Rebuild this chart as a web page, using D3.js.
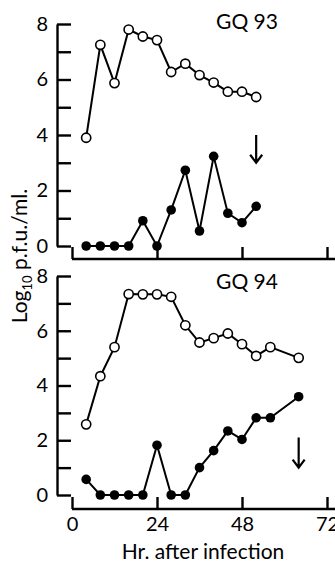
<!DOCTYPE html>
<html>
<head>
<meta charset="utf-8">
<script src="https://cdn.jsdelivr.net/npm/d3@7/dist/d3.min.js"></script>
<style>
  body { margin: 0; background: #fff; }
  svg text { font-family: Lato, "Open Sans", sans-serif; fill: #000; }
</style>
</head>
<body>
<div id="chart"></div>
<script>
// values (log10 p.f.u./ml.)
const hoursGQ93 = [4, 8, 12, 16, 20, 24, 28, 32, 36, 40, 44, 48, 52];
const openGQ93 = [3.9, 7.25, 5.87, 7.8, 7.55, 7.42, 6.27, 6.57, 6.16, 5.89, 5.56, 5.56, 5.37];
const closedGQ93 = [0, 0, 0, 0, 0.91, 0, 1.3, 2.73, 0.54, 3.23, 1.18, 0.84, 1.43];

const hoursGQ94 = [4, 8, 12, 16, 20, 24, 28, 32, 36, 40, 44, 48, 52, 56, 64];
const openGQ94 = [2.58, 4.34, 5.4, 7.34, 7.33, 7.33, 7.24, 6.2, 5.57, 5.73, 5.9, 5.51, 5.08, 5.4, 5.01];
const closedGQ94 = [0.57, 0, 0, 0, 0, 1.82, 0, 0, 1.0, 1.62, 2.34, 2.03, 2.82, 2.82, 3.59];

// arrows: hour, start value, end value
const arrowGQ93 = [52, 4.0, 3.0];
const arrowGQ94 = [64, 2.1, 1.0];

const xTicks = [0, 24, 48, 72];
const yTicks = [0, 1, 2, 3, 4, 5, 6, 7, 8];

const width = 335, height = 563;

const svg = d3.select('#chart').append('svg')
  .attr('width', width)
  .attr('height', height);

const x = d3.scaleLinear().domain([0, 72]).range([72, 327]);
const yAxisX = 57;

const panels = [
  { name: 'GQ 93', hours: hoursGQ93, open: openGQ93, closed: closedGQ93, arrow: arrowGQ93,
    yRange: [246, 24], xAxisY: 259, labels: false, titleY: 29 },
  { name: 'GQ 94', hours: hoursGQ94, open: openGQ94, closed: closedGQ94, arrow: arrowGQ94,
    yRange: [495, 276], xAxisY: 509, labels: true, titleY: 289 }
];

panels.forEach(p => {
  let y = d3.scaleLinear().domain([0, 8]).range(p.yRange);
  let g = svg.append('g');

  // y axis, ticks pointing inward
  let yAxis = g.append('g')
    .attr('transform', `translate(${yAxisX},0)`)
    .call(d3.axisLeft(y).tickValues(yTicks).tickSize(-14).tickSizeOuter(0).tickPadding(9)
      .tickFormat(d => d % 2 === 0 ? d : ''));
  yAxis.selectAll('line,.domain').attr('stroke', '#000').attr('stroke-width', 2.4);
  yAxis.selectAll('text').attr('font-size', 20);

  // x axis, ticks pointing up
  let xAxis = g.append('g')
    .attr('transform', `translate(0,${p.xAxisY})`)
    .call(d3.axisBottom(x).tickValues(xTicks).tickSize(-12).tickSizeOuter(0).tickPadding(8)
      .tickFormat(d => p.labels ? d : ''));
  xAxis.select('.domain').attr('d', `M${x(0)},0H${width}`);
  xAxis.selectAll('line,.domain').attr('stroke', '#000').attr('stroke-width', 2.4);
  xAxis.selectAll('text').attr('font-size', 20);

  let line = d3.line().x(d => x(d[0])).y(d => y(d[1]));
  let openPts = p.hours.map((h, i) => [h, p.open[i]]);
  let closedPts = p.hours.map((h, i) => [h, p.closed[i]]);

  [openPts, closedPts].forEach(pts => {
    g.append('path')
      .datum(pts)
      .attr('d', line)
      .attr('fill', 'none')
      .attr('stroke', '#000')
      .attr('stroke-width', 2);
  });

  g.selectAll('.open')
    .data(openPts)
    .enter().append('circle')
    .attr('class', 'open')
    .attr('cx', d => x(d[0]))
    .attr('cy', d => y(d[1]))
    .attr('r', 4.6)
    .attr('fill', '#fff')
    .attr('stroke', '#000')
    .attr('stroke-width', 1.6);

  g.selectAll('.closed')
    .data(closedPts)
    .enter().append('circle')
    .attr('class', 'closed')
    .attr('cx', d => x(d[0]))
    .attr('cy', d => y(d[1]))
    .attr('r', 4.8)
    .attr('fill', '#000');

  // downward arrow
  let ax = x(p.arrow[0]), ay0 = y(p.arrow[1]), ay1 = y(p.arrow[2]);
  g.append('path')
    .attr('d', `M${ax},${ay0}V${ay1}M${ax - 6},${ay1 - 8}L${ax},${ay1}L${ax + 6},${ay1 - 8}`)
    .attr('fill', 'none')
    .attr('stroke', '#000')
    .attr('stroke-width', 2.2);

  g.append('text')
    .attr('x', 247)
    .attr('y', p.titleY)
    .attr('text-anchor', 'middle')
    .attr('font-size', 21)
    .text(p.name);
});

// y axis title
let yTitle = svg.append('text')
  .attr('transform', 'translate(27,256) rotate(-90)')
  .attr('text-anchor', 'middle')
  .attr('font-size', 21);
yTitle.append('tspan').text('Log');
yTitle.append('tspan').attr('font-size', 13).attr('dy', 5).text('10');
yTitle.append('tspan').attr('dy', -5).text(' p.f.u./ml.');

// x axis title
svg.append('text')
  .attr('x', 203)
  .attr('y', 559)
  .attr('text-anchor', 'middle')
  .attr('font-size', 21)
  .text('Hr. after infection');
</script>
</body>
</html>
